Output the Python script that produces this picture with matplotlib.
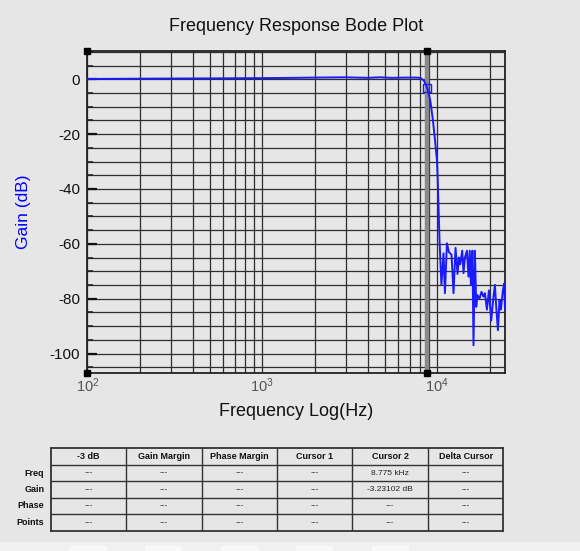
import math
import matplotlib
matplotlib.use('Agg')
import matplotlib.pyplot as plt
from matplotlib.ticker import FixedLocator, LogLocator, FuncFormatter, NullFormatter
import matplotlib.patches as mpatches

plt.rcParams['font.family'] = ['Liberation Sans', 'DejaVu Sans']
plt.rcParams['mathtext.fontset'] = 'custom'
plt.rcParams['mathtext.rm'] = 'Liberation Sans'
plt.rcParams['mathtext.default'] = 'rm'
plt.rcParams['axes.unicode_minus'] = False

# ---------------- data ----------------
freq_hz = [100, 150, 200, 300, 500, 700, 1000, 1500, 2000, 3000,
           4000, 4700, 5500, 6500, 7500, 8000, 8395, 8775, 9120, 9450,
           9703, 9961, 10040, 10172, 10306, 10568, 10865, 11066, 11360, 11664,
           12070, 12392, 12724, 13062, 13305, 13534, 13897, 14136, 14398, 14781,
           15098, 15336, 15580, 15889, 16121, 16421, 16707, 16994, 17447, 17911,
           18390, 18732, 19231, 19742, 20350, 20974, 21365, 21733, 22229, 22699,
           23121, 23737, 24150, 24400]
gain_db = [0.1, 0.15, 0.2, 0.25, 0.3, 0.35, 0.4, 0.5, 0.6, 0.7,
           0.5, 0.7, 0.5, 0.6, 0.6, 0.5, -0.5, -3.23, -7.6, -14.9,
           -22, -29.5, -34.4, -46.5, -58.7, -75, -63.5, -78, -59.8, -63,
           -64, -78, -61.5, -71, -65, -67.5, -62.5, -70.7, -65, -62.5,
           -72, -62.5, -75, -62.5, -97, -62.5, -83, -78.7, -80, -77.5,
           -79.3, -78, -84, -77, -88, -79.3, -75, -83, -91.5, -80.5,
           -84, -77, -74.5, -84]

cursor1_hz = 100
cursor2_hz = 8775
cursor2_db = -3.23102

y_major_ticks = [0, -20, -40, -60, -80, -100]
y_minor_ticks = [10, 5, 0, -5, -10, -15, -20, -25, -30, -35, -40, -45, -50, -55,
                 -60, -65, -70, -75, -80, -85, -90, -95, -100, -105]
x_decades = [100, 1000, 10000]

table_columns = ['-3 dB', 'Gain Margin', 'Phase Margin', 'Cursor 1', 'Cursor 2', 'Delta Cursor']
table_rows = ['Freq', 'Gain', 'Phase', 'Points']
row_freq = ['---', '---', '---', '---', '8.775 kHz', '---']
row_gain = ['---', '---', '---', '---', '-3.23102 dB', '---']
row_phase = ['---', '---', '---', '---', '---', '---']
row_points = ['---', '---', '---', '---', '---', '---']
table_cells = [row_freq, row_gain, row_phase, row_points]

# ---------------- figure ----------------
W, H = 580, 551
bg = '#e6e6e6'
fig = plt.figure(figsize=(W / 100, H / 100), dpi=100, facecolor=bg)

# bottom strip with buttons
fig.patches.append(mpatches.Rectangle((0, 0), 1, (H - 541.5) / H, transform=fig.transFigure,
                                      facecolor='#f0f0f0', edgecolor='none', zorder=0))
for bx in [70, 145, 220.5, 296, 371.5]:
    fig.patches.append(mpatches.Rectangle((bx / W, 0), 37 / W, (H - 546) / H, transform=fig.transFigure,
                                          facecolor='#f8f8f8', edgecolor='none', zorder=0))

L, R, T, B = 87.3, 505, 50.7, 372.7
ax = fig.add_axes([L / W, 1 - B / H, (R - L) / W, (B - T) / H])
ax.set_facecolor(bg)
ax.set_xscale('log')
ax.set_xlim(100, 24400)
ax.set_ylim(-107, 10.4)
ax.set_axisbelow(True)

ax.xaxis.set_major_locator(FixedLocator(x_decades))
ax.xaxis.set_minor_locator(LogLocator(base=10, subs=[2, 3, 4, 5, 6, 7, 8, 9], numticks=20))
ax.xaxis.set_major_formatter(FuncFormatter(lambda v, p: r'$10^{%d}$' % round(math.log10(v))))
ax.xaxis.set_minor_formatter(NullFormatter())
ax.yaxis.set_major_locator(FixedLocator(y_major_ticks))
ax.yaxis.set_minor_locator(FixedLocator(y_minor_ticks))

ax.grid(which='both', color='#2e2e2e', lw=0.9)
ax.tick_params(axis='x', which='both', length=0, pad=3, labelsize=10.5, labelcolor='#555555')
ax.tick_params(axis='y', which='major', direction='in', length=7, width=1.6, color='#111111',
               pad=5, labelsize=11, labelcolor='#111111')
ax.tick_params(axis='y', which='minor', direction='in', length=4, width=1.2, color='#222222')
for s in ax.spines.values():
    s.set_color('#222222')
    s.set_linewidth(1.3)

# cursor 2 band
ax.axvline(cursor2_hz, color='#8a8a8a', lw=3.2, zorder=1)

# curve
ax.plot(freq_hz, gain_db, color='#1a1aff', lw=1.4, zorder=3)

# cursor markers
ytop, ybot = ax.get_ylim()[1], ax.get_ylim()[0]
ax.plot([cursor1_hz, cursor1_hz, cursor2_hz, cursor2_hz], [ytop, ybot, ytop, ybot], 's',
        color='black', ms=4, clip_on=False, zorder=5)
ax.plot([cursor2_hz], [cursor2_db], 's', mfc='none', mec='#1a1aff', ms=6, mew=1.0, zorder=4)

ax.set_title('Frequency Response Bode Plot', fontsize=13, pad=14, color='#111111')
ax.set_xlabel('Frequency Log(Hz)', fontsize=13, color='#111111')
ax.xaxis.set_label_coords(0.5, -0.094)
ax.set_ylabel('Gain (dB)', fontsize=12.5, color='blue')
ax.yaxis.set_label_coords(-0.135, 0.5)

# ---------------- table ----------------
tL, tR, tT, tB = 50.7, 503.3, 448.3, 530.7
tax = fig.add_axes([tL / W, 1 - tB / H, (tR - tL) / W, (tB - tT) / H])
tax.set_xlim(0, len(table_columns))
tax.set_ylim(len(table_rows) + 1, 0)
tax.set_facecolor(bg)
tax.set_xticks([])
tax.set_yticks([])
for s in tax.spines.values():
    s.set_color('#333333')
    s.set_linewidth(1.3)
for i in range(1, len(table_columns)):
    tax.axvline(i, color='#333333', lw=1.0)
for j in range(1, len(table_rows) + 1):
    tax.axhline(j, color='#333333', lw=1.0)
for i, c in enumerate(table_columns):
    tax.text(i + 0.5, 0.5, c, ha='center', va='center', fontsize=6.5, fontweight='bold', color='#111111')
for j, rname in enumerate(table_rows):
    tax.text(-0.085, j + 1.5, rname, ha='right', va='center', fontsize=6.5, fontweight='bold',
             color='#111111', clip_on=False)
    for i, val in enumerate(table_cells[j]):
        tax.text(i + 0.5, j + 1.5, val, ha='center', va='center', fontsize=6, color='#222222')

fig.savefig('out.png', dpi=100, facecolor=bg)
